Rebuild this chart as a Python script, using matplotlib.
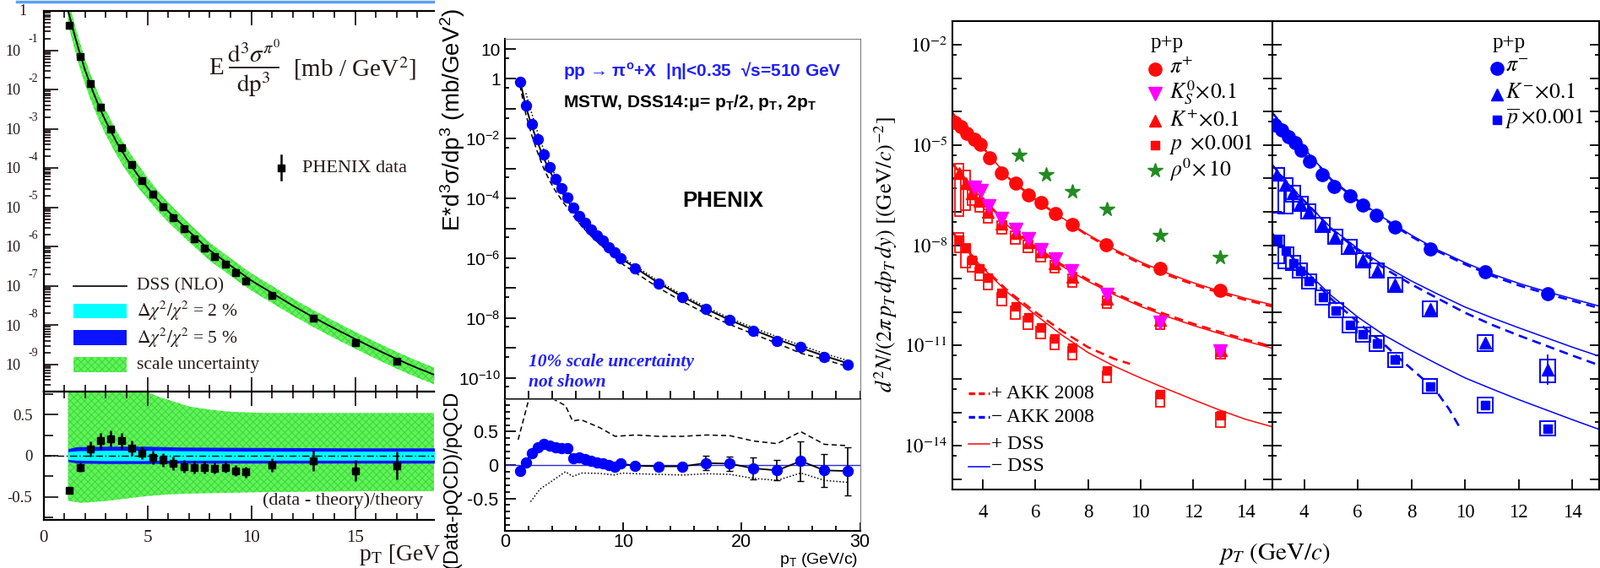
import numpy as np
import matplotlib
matplotlib.use('Agg')
from matplotlib import pyplot as plt
from matplotlib.patches import Rectangle
from matplotlib.lines import Line2D
from matplotlib.ticker import MultipleLocator, LogLocator, NullFormatter

W, H = 1895, 673
plt.rcParams['mathtext.fontset'] = 'custom'
plt.rcParams['mathtext.rm'] = 'Liberation Sans'
plt.rcParams['mathtext.it'] = 'Liberation Sans:italic'
plt.rcParams['mathtext.bf'] = 'Liberation Sans:bold'
plt.rcParams['hatch.linewidth'] = 0.7

SERIF = ['Liberation Serif', 'DejaVu Serif']
SANS = ['Liberation Sans', 'DejaVu Sans']

# ---------------- left panel: PHENIX pi0 vs DSS (NLO) ----------------
pi0_pt = [1.25, 1.75, 2.25, 2.75, 3.25, 3.75, 4.25, 4.75, 5.25, 5.75, 6.25, 6.75,
          7.25, 7.75, 8.25, 8.75, 9.25, 9.75, 11, 13, 15, 17, 19]
pi0_log = [-0.37, -1.16, -1.85, -2.46, -3.0, -3.48, -3.92, -4.31, -4.66, -4.98, -5.27, -5.55,
           -5.80, -6.04, -6.26, -6.45, -6.67, -6.87, -7.23, -7.83, -8.44, -8.92, -9.30]
pi0_rat = [-0.42, -0.14, 0.08, 0.18, 0.21, 0.18, 0.09, 0.035, -0.02, -0.05, -0.09, -0.13,
           -0.14, -0.14, -0.15, -0.14, -0.18, -0.20, -0.11, -0.06, -0.18, -0.12, -0.05]
pi0_err = [0.0, 0.06, 0.09, 0.1, 0.1, 0.1, 0.09, 0.08, 0.08, 0.08, 0.08, 0.08,
           0.08, 0.08, 0.07, 0.07, 0.07, 0.07, 0.08, 0.12, 0.13, 0.17, 0.12]

dss_pt = [1.18, 1.25, 1.5, 1.75, 2.0, 2.25, 2.5, 2.75, 3.0, 3.5, 4.0, 4.5, 5.0, 5.5,
          6.0, 7.0, 8.0, 9.0, 10.0, 11.0, 12.0, 13.0, 14.0, 15.0, 16.0, 17.0, 18.0, 19.0]
dss_log = [0.0, -0.12, -0.62, -1.08, -1.50, -1.87, -2.21, -2.52, -2.81, -3.32, -3.76, -4.15, -4.49, -4.81,
           -5.10, -5.61, -6.09, -6.48, -6.86, -7.18, -7.50, -7.80, -8.08, -8.35, -8.61, -8.86, -9.09, -9.30]
scale_hi = [0.9, 0.9, 0.9, 0.9, 0.9, 0.9, 0.9, 0.9, 0.9, 0.9, 0.9, 0.9, 0.78, 0.72,
            0.68, 0.60, 0.56, 0.535, 0.525, 0.52, 0.52, 0.52, 0.52, 0.52, 0.52, 0.52, 0.52, 0.52]
scale_lo = [-0.54, -0.55, -0.56, -0.57, -0.57, -0.565, -0.56, -0.555, -0.55, -0.535, -0.52, -0.505, -0.49, -0.48,
            -0.47, -0.46, -0.455, -0.45, -0.445, -0.44, -0.44, -0.435, -0.435, -0.43, -0.43, -0.43, -0.43, -0.43]

dchi_pt = [1.18, 1.6, 3, 5, 6.6, 10, 15, 19]
d5_hi = [0.085, 0.11, 0.115, 0.115, 0.105, 0.10, 0.095, 0.095]
d5_lo = [-0.07, -0.09, -0.095, -0.095, -0.09, -0.09, -0.09, -0.09]
d2_hi = [0.05, 0.06, 0.065, 0.065, 0.06, 0.055, 0.055, 0.055]
d2_lo = [-0.045, -0.055, -0.06, -0.06, -0.055, -0.055, -0.055, -0.055]

# ---------------- middle panel: PHENIX pi0 at 510 GeV ----------------
p2_pt = [1.25, 1.75, 2.25, 2.75, 3.25, 3.75, 4.25, 4.75, 5.25, 5.75, 6.25, 6.75, 7.25, 7.75,
         8.25, 8.75, 9.25, 9.75, 11, 13, 15, 17, 19, 21, 23, 25, 27, 29]
p2_log = [-0.09, -0.88, -1.51, -2.03, -2.54, -2.96, -3.34, -3.67, -3.97, -4.30, -4.58, -4.82, -5.04, -5.24,
          -5.42, -5.64, -5.81, -5.99, -6.33, -6.85, -7.30, -7.70, -8.07, -8.42, -8.76, -8.98, -9.30, -9.55]
p2_rat = [-0.09, 0.04, 0.18, 0.27, 0.31, 0.29, 0.27, 0.25, 0.25, 0.10, 0.12, 0.09, 0.06, 0.04,
          0.03, 0.0, -0.03, 0.02, -0.01, -0.02, -0.02, 0.03, 0.02, -0.05, -0.08, 0.06, -0.08, -0.09]
p2_err = [0.03, 0.03, 0.05, 0.05, 0.05, 0.05, 0.05, 0.05, 0.05, 0.05, 0.04, 0.04, 0.04, 0.04,
          0.04, 0.04, 0.04, 0.04, 0.03, 0.04, 0.05, 0.11, 0.11, 0.17, 0.15, 0.3, 0.25, 0.36]

nlo_pt = [1.25, 1.75, 2.25, 2.75, 3.25, 3.75, 4.25, 5.0, 6.0, 7.0, 8.0, 9.0, 10.0,
          11, 13, 15, 17, 19, 21, 23, 25, 27, 29]
nlo_mid = [-0.05, -0.93, -1.58, -2.13, -2.64, -3.07, -3.44, -3.92, -4.49, -4.96, -5.35, -5.72, -6.06,
           -6.32, -6.84, -7.29, -7.70, -8.07, -8.40, -8.71, -9.00, -9.27, -9.52]
nlo_half = [-0.22, -1.19, -1.89, -2.47, -2.99, -3.40, -3.75, -4.18, -4.71, -5.16, -5.53, -5.88, -6.22,
            -6.48, -7.00, -7.45, -7.86, -8.22, -8.54, -8.85, -9.18, -9.39, -9.63]
nlo_two_pt = [1.75, 2.25, 2.75, 3.25, 3.75, 4.25, 5.0, 6.0, 7.0, 8.0, 9.0, 10.0,
              11, 13, 15, 17, 19, 21, 23, 25, 27, 29]
nlo_two = [-0.48, -1.16, -1.79, -2.36, -2.83, -3.24, -3.77, -4.39, -4.88, -5.28, -5.66, -6.0,
           -6.26, -6.78, -7.23, -7.64, -8.01, -8.33, -8.63, -8.92, -9.19, -9.43]

rat_half_pt = [1.1, 2.05, 3.0, 3.95, 5.1, 5.7, 6.4, 7.2, 8.0, 9.3, 11, 13, 15, 17, 19, 21, 23, 25, 27, 29]
rat_half = [0.38, 1.02, 1.25, 1.0, 0.89, 0.66, 0.68, 0.62, 0.56, 0.43, 0.45, 0.43, 0.43, 0.45,
            0.44, 0.36, 0.32, 0.50, 0.31, 0.29]
rat_two_pt = [2.15, 2.95, 3.95, 5.1, 5.7, 6.5, 8.0, 9.2, 9.9, 11, 13, 15, 17, 19, 21, 23, 25, 27, 29]
rat_two = [-0.55, -0.36, -0.24, -0.10, -0.17, -0.12, -0.125, -0.15, -0.12, -0.13, -0.14, -0.15,
           -0.13, -0.14, -0.2, -0.23, -0.12, -0.23, -0.26]

# ---------------- right panel: identified hadrons, p+p ----------------
pip_pt = [2.95, 3.18, 3.40, 3.67, 3.92, 4.26, 4.72, 5.24, 5.72, 6.21, 6.75, 7.41, 8.70, 10.76, 13.03]
pip_log = [-4.32, -4.45, -4.65, -4.83, -4.99, -5.39, -5.83, -6.13, -6.49, -6.72, -7.05, -7.37, -7.99, -8.70, -9.35]
ks_pt = [3.69, 3.94, 4.23, 4.72, 5.24, 5.72, 6.21, 6.75, 7.38, 8.73, 10.74, 13.03]
ks_log = [-6.27, -6.38, -6.83, -7.21, -7.54, -7.81, -8.13, -8.42, -8.78, -9.48, -10.31, -11.18]
kp_pt = [3.1, 3.35, 3.6, 3.87, 4.2, 4.72, 5.24, 5.72, 6.21, 6.73, 7.41, 8.72, 10.75, 13.05]
kp_log = [-5.83, -6.13, -6.45, -6.67, -6.99, -7.35, -7.64, -7.91, -8.2, -8.53, -8.94, -9.59, -10.24, -11.14]
kp_sys_lo = [-7.12, -6.95, -6.80, -7.00, -7.32, -7.65, -7.95, -8.22, -8.5, -8.83, -9.24, -9.88, -10.5, -11.4]
kp_sys_hi = [-5.56, -5.77, -6.35, -6.60, -6.92, -7.28, -7.58, -7.85, -8.14, -8.47, -8.88, -9.52, -10.18, -11.08]
pr_log = [-7.84, -8.08, -8.43, -8.69, -8.97, -9.43, -9.84, -10.16, -10.45, -10.78, -11.07, -11.75, -12.45, -13.1]
pr_sys_lo = [-8.21, -8.67, -8.80, -9.05, -9.32, -9.8, -10.2, -10.5, -10.8, -11.12, -11.42, -12.1, -12.83, -13.43]
pr_sys_hi = [-7.62, -7.96, -8.40, -8.66, -8.94, -9.42, -9.82, -10.14, -10.43, -10.76, -11.05, -11.78, -12.4, -13.0]
rho_pt = [5.37, 6.42, 7.41, 8.73, 10.74, 13.03]
rho_log = [-5.30, -5.89, -6.40, -6.92, -7.70, -8.37]

line_pt = [2.83, 3.5, 4, 5, 6, 7, 8, 9, 10, 11, 12, 13, 14, 15]
pip_dss = [-4.02, -4.72, -5.07, -6.0, -6.62, -7.17, -7.68, -8.12, -8.50, -8.83, -9.12, -9.37, -9.59, -9.78]
pip_akk = [-4.02, -4.72, -5.07, -6.0, -6.63, -7.19, -7.71, -8.16, -8.55, -8.88, -9.17, -9.42, -9.64, -9.83]
kp_dss = [-5.54, -6.20, -6.62, -7.45, -8.08, -8.62, -9.08, -9.48, -9.83, -10.13, -10.40, -10.64, -10.87, -11.08]
kp_akk = [-5.54, -6.19, -6.60, -7.42, -8.04, -8.58, -9.03, -9.43, -9.78, -10.08, -10.35, -10.59, -10.82, -11.03]
pr_dss = [-7.59, -8.25, -8.68, -9.45, -10.08, -10.68, -11.21, -11.62, -11.97, -12.30, -12.62, -12.93, -13.21, -13.43]
pr_akk_pt = [2.83, 3.5, 4, 5, 6, 7, 8, 9, 9.6]
pr_akk = [-7.59, -8.23, -8.65, -9.40, -10.0, -10.56, -11.05, -11.40, -11.55]

pim_pt = [2.90, 3.16, 3.40, 3.66, 3.90, 4.21, 4.68, 5.12, 5.70, 6.20, 6.70, 7.39, 8.70, 10.75, 13.08]
pim_log = [-4.40, -4.56, -4.76, -4.94, -5.16, -5.48, -5.88, -6.24, -6.53, -6.81, -7.10, -7.46, -8.11, -8.80, -9.45]
km_pt = [2.98, 3.30, 3.58, 3.86, 4.16, 4.68, 5.15, 5.68, 6.20, 6.71, 7.39, 8.70, 10.75, 13.08]
km_log = [-5.89, -6.18, -6.45, -6.76, -6.99, -7.39, -7.75, -8.05, -8.45, -8.76, -9.18, -9.91, -10.92, -11.72]
km_err = [0, 0, 0, 0, 0, 0, 0, 0, 0, 0, 0, 0, 0, 0.45]
km_sys_lo = [-7.03, -7.04, -6.70, -6.98, -7.21, -7.61, -7.97, -8.27, -8.67, -8.98, -9.40, -10.13, -11.16, -12.1]
km_sys_hi = [-5.69, -5.98, -6.23, -6.54, -6.77, -7.17, -7.53, -7.83, -8.23, -8.54, -8.96, -9.69, -10.68, -11.43]
pb_pt = [3.0, 3.32, 3.60, 3.84, 4.18, 4.70, 5.19, 5.70, 6.20, 6.71, 7.39, 8.70, 10.75, 13.08]
pb_log = [-7.86, -8.15, -8.53, -8.76, -9.08, -9.56, -9.95, -10.38, -10.67, -10.94, -11.43, -12.22, -12.78, -13.48]
pb_sys_lo = [-8.55, -8.70, -8.75, -8.98, -9.30, -9.78, -10.17, -10.60, -10.89, -11.16, -11.65, -12.44, -13.0, -13.70]
pb_sys_hi = [-7.70, -8.05, -8.31, -8.54, -8.86, -9.34, -9.73, -10.16, -10.45, -10.72, -11.21, -12.0, -12.56, -13.26]

line_pt_r = [2.8, 3.5, 4, 5, 6, 7, 8, 9, 10, 11, 12, 13, 14, 15]
pim_dss = [-4.02, -4.72, -5.1, -6.02, -6.65, -7.2, -7.7, -8.15, -8.52, -8.86, -9.14, -9.38, -9.6, -9.82]
pim_akk = [-4.02, -4.72, -5.1, -6.03, -6.67, -7.23, -7.74, -8.19, -8.57, -8.91, -9.2, -9.44, -9.66, -9.88]
km_dss = [-5.59, -6.25, -6.67, -7.48, -8.1, -8.62, -9.07, -9.47, -9.85, -10.17, -10.47, -10.76, -11.05, -11.32]
km_akk = [-5.59, -6.25, -6.67, -7.5, -8.15, -8.7, -9.17, -9.6, -10.02, -10.38, -10.7, -11.0, -11.3, -11.59]
pb_dss = [-7.64, -8.3, -8.72, -9.5, -10.15, -10.7, -11.15, -11.57, -11.97, -12.3, -12.62, -12.92, -13.22, -13.51]
pb_akk_pt = [2.8, 3.5, 4, 5, 6, 7, 7.5, 8, 8.5, 9, 9.4, 9.8]
pb_akk = [-7.64, -8.32, -8.76, -9.6, -10.3, -10.98, -11.35, -11.7, -12.05, -12.45, -12.9, -13.45]


def p10(v):
    return 10.0 ** np.asarray(v, dtype=float)


fig = plt.figure(figsize=(W / 100, H / 100), dpi=100)


def place(x0, y0, x1, y1):
    return fig.add_axes([x0 / W, 1 - y1 / H, (x1 - x0) / W, (y1 - y0) / H])


def ftext(x, y, s, **kw):
    return fig.text(x / W, 1 - y / H, s, **kw)


def fline(xs, ys, **kw):
    fig.add_artist(Line2D([v / W for v in xs], [1 - v / H for v in ys], **kw))


def frect(x0, y0, x1, y1, **kw):
    fig.add_artist(Rectangle((x0 / W, 1 - y1 / H), (x1 - x0) / W, (y1 - y0) / H,
                             transform=fig.transFigure, **kw))


GREEN, GREEN_H = '#62f25a', '#3ad83a'
INK = '#241818'

# ======================= panel 1 =======================
ax = place(51.5, 13, 514, 464)
axr = place(51.5, 464, 514, 616)

th = p10(dss_log)
ax.fill_between(dss_pt, th * (1 + np.array(scale_lo)), th * (1 + np.array(scale_hi)),
                facecolor=GREEN, edgecolor=GREEN_H, hatch='xxxx', lw=0)
ax.plot(dss_pt, th, color='k', lw=1.3)
ax.plot(pi0_pt, p10(pi0_log), 's', color='k', ms=5.5)
ax.set_yscale('log')
ax.set_ylim(10 ** -9.69, 1)
ax.set_xlim(0, 18.8)

axr.fill_between(dss_pt, scale_lo, scale_hi, facecolor=GREEN, edgecolor=GREEN_H, hatch='xxxx', lw=0)
axr.fill_between(dchi_pt, d5_lo, d5_hi, color='#0a14ff', lw=0)
axr.fill_between(dchi_pt, d2_lo, d2_hi, color='#00ffff', lw=0)
axr.axhline(0, color='k', lw=1, ls=(0, (6, 2, 1, 2)))
axr.errorbar(pi0_pt, pi0_rat, yerr=pi0_err, fmt='s', color='k', ms=5.5, elinewidth=1.8, capsize=0)
axr.set_xlim(0, 18.8)
axr.set_ylim(-0.78, 0.78)

for a in (ax, axr):
    a.spines['right'].set_visible(False)
    for s in ('left', 'top', 'bottom'):
        a.spines[s].set_linewidth(1.6)
    a.tick_params(which='both', direction='in', top=True, right=False, colors=INK, width=1.3)
    a.tick_params(which='major', length=12)
    a.tick_params(which='minor', length=6)
    a.xaxis.set_major_locator(MultipleLocator(5))
    a.xaxis.set_minor_locator(MultipleLocator(1))

ax.yaxis.set_major_locator(LogLocator(base=10, numticks=20))
ax.yaxis.set_minor_locator(LogLocator(base=10, subs=range(2, 10), numticks=20))
ax.yaxis.set_minor_formatter(NullFormatter())
ax.tick_params(labelleft=False, labelbottom=False)
for k in range(1, 10):
    ax.annotate('10', xy=(0, 10.0 ** -k), xycoords=('axes fraction', 'data'), xytext=(-35.7, -1.7),
                textcoords='offset pixels', ha='center', va='center', fontsize=13, family=SERIF, color=INK)
    ax.annotate('-%d' % k, xy=(0, 10.0 ** -k), xycoords=('axes fraction', 'data'), xytext=(-12.5, 13),
                textcoords='offset pixels', ha='center', va='center', fontsize=10, family=SERIF, color=INK)
ax.annotate('1', xy=(0, 1), xycoords=('axes fraction', 'data'), xytext=(-25, 0),
            textcoords='offset pixels', ha='center', va='center', fontsize=13, family=SERIF, color='#3a1010')

axr.yaxis.set_major_locator(MultipleLocator(0.5))
axr.yaxis.set_minor_locator(MultipleLocator(0.25))
axr.tick_params(which='minor', axis='y', length=8)
axr.set_yticks([-0.5, 0, 0.5], ['-0.5', '0', '0.5'], fontsize=13.5, family=SERIF, color=INK)
axr.set_xticks([0, 5, 10, 15], ['0', '5', '10', '15'], fontsize=15, family=SERIF, color=INK)
axr.tick_params(axis='y', pad=9.5)
axr.tick_params(axis='x', pad=9)

# cross-section formula, built as E, fraction and units
FM = dict(va='center', fontsize=21, family=SERIF, math_fontfamily='stix', color=INK)
ftext(256, 81, 'E', ha='center', **FM)
ftext(301, 64, r'$\mathrm{d}^3\sigma^{\pi^0}$', ha='center', **FM)
fline([272, 330], [80, 80], color=INK, lw=1.3)
ftext(300, 100, r'$\mathrm{dp}^3$', ha='center', **FM)
ftext(347, 81, r'[mb / GeV$^2$]', ha='left', **FM)

fline([333, 333], [184, 213], color='k', lw=1.8)
fline([333], [199], marker='s', color='k', ms=5.5)
ftext(358, 199, 'PHENIX data', ha='left', va='center', fontsize=16, family=SERIF, color=INK)

fline([87, 150], [339, 339], color='k', lw=1.2)
frect(87, 360, 150, 377, facecolor='#00ffff', edgecolor='none')
frect(87, 391, 150, 409, facecolor='#0a14ff', edgecolor='none')
frect(87, 423, 150, 441, facecolor=GREEN, edgecolor=GREEN_H, hatch='xxxx', lw=0)
leg1 = ['DSS (NLO)', r'$\Delta\chi^2/\chi^2$ = 2 %', r'$\Delta\chi^2/\chi^2$ = 5 %', 'scale uncertainty']
for yy, s in zip([339, 368, 400, 432], leg1):
    ftext(162, yy, s, ha='left', va='center', fontsize=15.5, family=SERIF, math_fontfamily='stix', color=INK)
ftext(406, 593, '(data - theory)/theory', ha='center', va='center', fontsize=16, family=SERIF, color=INK)
ftext(425, 658, r'p$_{\mathrm{T}}$ [GeV', ha='left', va='center', fontsize=20, family=SERIF,
      math_fontfamily='stix', color=INK)
fline([20, 513], [2, 2], color='#5aa0f0', lw=2.5)

# ======================= panel 2 =======================
BLUE_T = '#1f1fff'
ax2 = place(598.3, 46, 1018.5, 472.7)
ax2r = place(598.3, 472.7, 1018.5, 629.3)

ax2.plot(nlo_pt, p10(nlo_half), color='k', lw=1.1, ls=(0, (4, 2.5)))
ax2.plot(nlo_two_pt, p10(nlo_two), color='k', lw=1.1, ls=(0, (1, 1.5)))
ax2.plot(nlo_pt, p10(nlo_mid), color='k', lw=1.4)
ax2.plot(p2_pt, p10(p2_log), 'o', color='#0000ff', ms=8.6, zorder=3)
ax2.set_yscale('log')
ax2.set_xlim(0, 30)
ax2.set_ylim(10 ** -10.71, 10 ** 1.34)

ax2r.axhline(0, color='#2a2ad0', lw=1)
ax2r.plot(rat_half_pt, rat_half, color='k', lw=1.1, ls=(0, (4, 2.5)))
ax2r.plot(rat_two_pt, rat_two, color='k', lw=1.1, ls=(0, (1, 1.5)))
ax2r.errorbar(p2_pt, p2_rat, yerr=p2_err, fmt='-', color='k', lw=1.3, elinewidth=1.2, capsize=3)
ax2r.plot(p2_pt, p2_rat, 'o', color='#0000ff', ms=8.6, zorder=3)
ax2r.set_xlim(0, 30)
ax2r.set_ylim(-0.99, 0.99)

for a in (ax2, ax2r):
    a.spines['top'].set_color('#808080')
    a.spines['right'].set_color('#808080')
    a.spines['left'].set_linewidth(1.5)
    a.spines['bottom'].set_linewidth(1.5)
    a.tick_params(which='both', direction='in', top=False, right=False, width=1.3)
    a.xaxis.set_major_locator(MultipleLocator(10))
    a.xaxis.set_minor_locator(MultipleLocator(2))

ax2.set_yticks([10.0 ** k for k in range(-10, 2)],
               [r'$10^{%d}$' % k if (k < 0 and k % 2 == 0) else ('1' if k == 0 else ('10' if k == 1 else ''))
                for k in range(-10, 2)], fontsize=15, family=SANS)
ax2.yaxis.set_minor_locator(LogLocator(base=10, subs=(5,), numticks=20))
ax2.yaxis.set_minor_formatter(NullFormatter())
ax2.tick_params(axis='y', which='major', length=9.5, pad=4)
ax2.tick_params(axis='y', which='minor', length=3.6)
ax2.tick_params(axis='x', which='both', length=7, labelbottom=False)

ax2r.yaxis.set_major_locator(MultipleLocator(0.5))
ax2r.yaxis.set_minor_locator(MultipleLocator(0.1))
ax2r.set_yticks([-0.5, 0, 0.5], ['-0.5', '0', '0.5'], fontsize=15.5, family=SANS)
ax2r.set_xticks([0, 10, 20, 30], ['0', '10', '20', '30'], fontsize=15.5, family=SANS)
ax2r.tick_params(axis='y', which='major', length=9.5, pad=6)
ax2r.tick_params(axis='y', which='minor', length=4.5)
ax2r.tick_params(axis='x', which='major', length=7, pad=2)
ax2r.tick_params(axis='x', which='minor', length=4)

ftext(667, 90, r'pp → π$^{\mathbf{o}}$+X  |η|<0.35  √s=510 GeV', ha='left', va='baseline',
      fontsize=15, fontweight='bold', family=SANS, color=BLUE_T)
ftext(667, 127, r'MSTW, DSS14:μ= p$_{\mathbf{T}}$/2, p$_{\mathbf{T}}$, 2p$_{\mathbf{T}}$', ha='left',
      va='baseline', fontsize=15, fontweight='bold', family=SANS, color='k')
ftext(856, 238, 'PHENIX', ha='center', va='center', fontsize=18.5, fontweight='bold', family=SANS)
ftext(626, 429, '10% scale uncertainty', ha='left', va='center', fontsize=15.5, fontweight='bold',
      style='italic', family=SERIF, color=BLUE_T)
ftext(626, 453, 'not shown', ha='left', va='center', fontsize=15.5, fontweight='bold',
      style='italic', family=SERIF, color=BLUE_T)
ftext(536, 274, r'E*d$^{3}$σ/dp$^{3}$ (mb/GeV$^{2}$)', rotation=90, ha='center', va='bottom',
      fontsize=20, family=SANS)
ftext(535, 463, '(Data-pQCD)/pQCD', rotation=90, ha='center', va='top', fontsize=17, family=SANS)
ftext(1016, 663, r'p$_{\mathrm{T}}$ (GeV/c)', ha='right', va='center', fontsize=14, family=SANS)

# ======================= panel 3 =======================
RED, MAG, GRN, BLU = '#ff0a0a', '#ff00ff', '#228b22', '#0000ff'
ax3 = place(1127.5, 24.5, 1506.5, 580)
ax4 = place(1506.5, 24.5, 1894, 580)

for x, lo, hi in zip(kp_pt, kp_sys_lo, kp_sys_hi):
    ax3.add_patch(Rectangle((x - 0.17, 10.0 ** lo), 0.34, 10.0 ** hi - 10.0 ** lo,
                            fill=False, edgecolor=RED, lw=1.3, zorder=2))
for x, lo, hi in zip(kp_pt, pr_sys_lo, pr_sys_hi):
    ax3.add_patch(Rectangle((x - 0.17, 10.0 ** lo), 0.34, 10.0 ** hi - 10.0 ** lo,
                            fill=False, edgecolor=RED, lw=1.3, zorder=2))
ax3.plot(line_pt, p10(pip_dss), color=RED, lw=1.1)
ax3.plot(line_pt, p10(pip_akk), color=RED, lw=1.9, ls=(0, (4, 2.5)))
ax3.plot(line_pt, p10(kp_dss), color=RED, lw=1.1)
ax3.plot(line_pt, p10(kp_akk), color=RED, lw=1.9, ls=(0, (4, 2.5)))
ax3.plot(line_pt, p10(pr_dss), color=RED, lw=1.1)
ax3.plot(pr_akk_pt, p10(pr_akk), color=RED, lw=1.9, ls=(0, (4, 2.5)))
ax3.plot(pip_pt, p10(pip_log), 'o', color=RED, ms=11, zorder=3)
ax3.plot(kp_pt, p10(kp_log), '^', color=RED, ms=9.5, zorder=3)
ax3.plot(ks_pt, p10(ks_log), 'v', color=MAG, ms=11, zorder=3)
ax3.plot(kp_pt, p10(pr_log), 's', color=RED, ms=7, zorder=3)
ax3.plot(rho_pt, p10(rho_log), '*', color=GRN, ms=13, zorder=3)

for x, lo, hi in zip(km_pt, km_sys_lo, km_sys_hi):
    ax4.add_patch(Rectangle((x - 0.27, 10.0 ** lo), 0.54, 10.0 ** hi - 10.0 ** lo,
                            fill=False, edgecolor=BLU, lw=1.4, zorder=2))
for x, lo, hi in zip(pb_pt, pb_sys_lo, pb_sys_hi):
    ax4.add_patch(Rectangle((x - 0.27, 10.0 ** lo), 0.54, 10.0 ** hi - 10.0 ** lo,
                            fill=False, edgecolor=BLU, lw=1.4, zorder=2))
ax4.plot(line_pt_r, p10(pim_dss), color=BLU, lw=1.1)
ax4.plot(line_pt_r, p10(pim_akk), color=BLU, lw=1.9, ls=(0, (4, 2.5)))
ax4.plot(line_pt_r, p10(km_dss), color=BLU, lw=1.1)
ax4.plot(line_pt_r, p10(km_akk), color=BLU, lw=1.9, ls=(0, (4, 2.5)))
ax4.plot(line_pt_r, p10(pb_dss), color=BLU, lw=1.1)
ax4.plot(pb_akk_pt, p10(pb_akk), color=BLU, lw=1.9, ls=(0, (4, 2.5)))
ax4.plot(pim_pt, p10(pim_log), 'o', color=BLU, ms=11, zorder=3)
km_v = p10(km_log)
ax4.errorbar(km_pt, km_v, yerr=[km_v - km_v * 10.0 ** -np.array(km_err), km_v * 10.0 ** np.array(km_err) - km_v],
             fmt='^', color=BLU, ms=9.5, elinewidth=1.3, capsize=0, zorder=3)
ax4.plot(pb_pt, p10(pb_log), 's', color=BLU, ms=7, zorder=3)

for a, xl in ((ax3, (2.83, 15)), (ax4, (2.8, 15.0))):
    a.set_yscale('log')
    a.set_ylim(10 ** -15.31, 10 ** -1.28)
    a.set_xlim(*xl)
    for s in a.spines.values():
        s.set_linewidth(1.5)
    a.tick_params(which='both', direction='in', left=True, right=True, top=False, width=1.3)
    a.yaxis.set_major_locator(LogLocator(base=10, numticks=20))
    a.yaxis.set_minor_locator(LogLocator(base=10, subs=(5,), numticks=20))
    a.yaxis.set_minor_formatter(NullFormatter())
    a.tick_params(axis='y', which='major', length=8)
    a.tick_params(axis='y', which='minor', length=3.6)
    a.set_xticks([4, 6, 8, 10, 12, 14], ['4', '6', '8', '10', '12', '14'], fontsize=16.5, family=SERIF)
    a.tick_params(axis='x', which='major', length=9, pad=12)

ax3.set_yticks([1e-2, 1e-5, 1e-8, 1e-11, 1e-14],
               [r'$10^{-2}$', r'$10^{-5}$', r'$10^{-8}$', r'$10^{-11}$', r'$10^{-14}$'],
               fontsize=16.5, math_fontfamily='stix')
ax3.yaxis.set_major_locator(LogLocator(base=10, numticks=20))
ax3.tick_params(axis='y', pad=4)
ax4.tick_params(labelleft=False)

SK = dict(ha='left', va='center', fontsize=18.5, family=SERIF, math_fontfamily='stix')
ftext(1382, 51, 'p+p', ha='center', va='center', fontsize=18, family=SERIF)
fline([1368], [81.5], marker='o', color=RED, ms=11)
fline([1368], [111], marker='v', color=MAG, ms=11)
fline([1368], [143], marker='^', color=RED, ms=9.5)
fline([1368], [172], marker='s', color=RED, ms=6.5)
fline([1368], [202], marker='*', color=GRN, ms=13)
ftext(1385, 80, r'$\pi^{+}$', **SK)
ftext(1385, 110, r'$K^{0}_{S}\!\times\!0.1$', **SK)
ftext(1385, 142, r'$K^{+}\!\times\!0.1$', **SK)
ftext(1385, 171, r'$p\ \times\!0.001$', **SK)
ftext(1385, 201, r'$\rho^{0}\!\times 10$', **SK)

fline([1147, 1172], [466, 466], color=RED, lw=2.4, ls=(0, (2.2, 1.3)))
fline([1147, 1172], [494, 494], color=BLU, lw=2.4, ls=(0, (2.2, 1.3)))
fline([1147, 1172], [526, 526], color=RED, lw=1.1)
fline([1147, 1172], [553, 553], color=BLU, lw=1.1)
for yy, s in zip([466, 494, 526, 553], ['+ AKK 2008', '− AKK 2008', '+ DSS', '− DSS']):
    ftext(1174, yy, s, ha='left', va='center', fontsize=17, family=SERIF)

ftext(1787, 51, 'p+p', ha='center', va='center', fontsize=18, family=SERIF)
fline([1773], [81], marker='o', color=BLU, ms=11)
fline([1773], [112], marker='^', color=BLU, ms=9.5)
fline([1773], [142], marker='s', color=BLU, ms=6.5)
ftext(1783, 79, r'$\pi^{-}$', **SK)
ftext(1783, 110, r'$K^{-}\!\times\!0.1$', **SK)
ftext(1783, 141, r'$\overline{p}\times\!0.001$', **SK)

ftext(1049, 302, r'$d^2N/(2\pi\, p_T\, dp_T\, dy)\ [(\mathrm{GeV}/c)^{-2}]$', rotation=90,
      ha='center', va='center', fontsize=19, math_fontfamily='stix')
ftext(1443, 656, r'$p_T\ (\mathrm{GeV}/c)$', ha='left', va='center', fontsize=21, math_fontfamily='stix')

fig.savefig('out.png', dpi=100)
